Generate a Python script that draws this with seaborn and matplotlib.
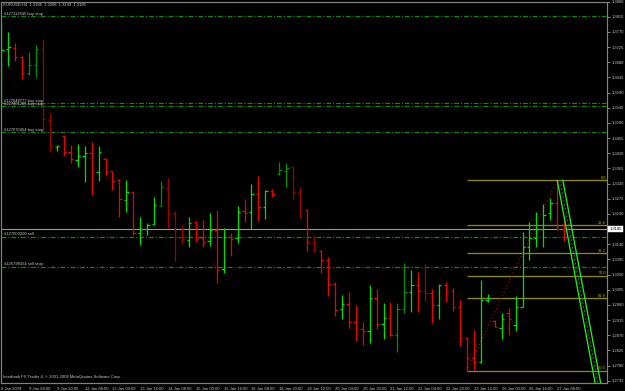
import matplotlib
matplotlib.use("Agg")
import matplotlib.pyplot as plt
import numpy as np
import pandas as pd
import seaborn as sns

# ---------------- data ----------------
symbol_header = "EURUSD,H4  1.3186  1.3208  1.3149  1.3185"
footer_text = "Interbank FX Trader 4, \u00a9 2001-2008 MetaQuotes Software Corp."

time_labels = ["8 Jan 2009", "9 Jan 04:00", "9 Jan 20:00", "12 Jan 08:00", "13 Jan 00:00",
               "13 Jan 16:00", "14 Jan 08:00", "15 Jan 00:00", "15 Jan 16:00", "16 Jan 08:00",
               "18 Jan 20:00", "19 Jan 12:00", "20 Jan 04:00", "20 Jan 20:00", "21 Jan 12:00",
               "22 Jan 04:00", "22 Jan 20:00", "23 Jan 12:00", "26 Jan 00:00", "26 Jan 16:00",
               "27 Jan 08:00"]

opens = [1.3597, 1.3719, 1.3722, 1.3695, 1.3647, 1.3671, 1.3719, 1.3508, 1.3428, 1.3461,
         1.3413, 1.3389, 1.3401, 1.3410, 1.3354, 1.3392, 1.3357, 1.3330, 1.3271, 1.3295,
         1.3173, 1.3185, 1.3200, 1.3253, 1.3306, 1.3229, 1.3161, 1.3152, 1.3206, 1.3158,
         1.3149, 1.3182, 1.3066, 1.3161, 1.3158, 1.3238, 1.3235, 1.3289, 1.3250, 1.3297,
         1.3348, 1.3357, 1.3369, 1.3295, 1.3241, 1.3146, 1.3120, 1.3093, 1.3022, 1.2948,
         1.2962, 1.2909, 1.2888, 1.2882, 1.2980, 1.2903, 1.2921, 1.2871, 1.2948, 1.2998,
         1.3019, 1.3001, 1.2995, 1.2960, 1.3019, 1.3001, 1.2954, 1.2862, 1.2802, 1.2791,
         1.2974, 1.2912, 1.2891, 1.2936, 1.2900, 1.2954, 1.3131, 1.3158, 1.3185, 1.3232,
         1.3262, 1.3186]

highs = [1.3799, 1.3769, 1.3736, 1.3697, 1.3710, 1.3730, 1.3748, 1.3529, 1.3434, 1.3463,
         1.3434, 1.3437, 1.3431, 1.3443, 1.3431, 1.3395, 1.3358, 1.3332, 1.3330, 1.3297,
         1.3220, 1.3203, 1.3280, 1.3327, 1.3336, 1.3238, 1.3197, 1.3220, 1.3209, 1.3212,
         1.3232, 1.3241, 1.3188, 1.3173, 1.3253, 1.3274, 1.3318, 1.3342, 1.3300, 1.3303,
         1.3384, 1.3381, 1.3369, 1.3309, 1.3244, 1.3164, 1.3123, 1.3102, 1.3028, 1.2989,
         1.2998, 1.2960, 1.2909, 1.3019, 1.3007, 1.2965, 1.2968, 1.2965, 1.3084, 1.3063,
         1.3057, 1.3081, 1.3007, 1.3022, 1.3028, 1.3010, 1.2974, 1.2865, 1.2885, 1.3034,
         1.2992, 1.2915, 1.2936, 1.2951, 1.2986, 1.3176, 1.3206, 1.3235, 1.3259, 1.3277,
         1.3330, 1.3208]

lows = [1.3538, 1.3668, 1.3683, 1.3630, 1.3641, 1.3636, 1.3470, 1.3413, 1.3416, 1.3401,
        1.3381, 1.3369, 1.3324, 1.3286, 1.3327, 1.3342, 1.3300, 1.3220, 1.3235, 1.3167,
        1.3137, 1.3167, 1.3197, 1.3253, 1.3188, 1.3090, 1.3140, 1.3131, 1.3146, 1.3131,
        1.3134, 1.3025, 1.3054, 1.3105, 1.3143, 1.3206, 1.3185, 1.3209, 1.3215, 1.3280,
        1.3345, 1.3309, 1.3274, 1.3215, 1.3120, 1.3117, 1.3054, 1.2986, 1.2927, 1.2918,
        1.2891, 1.2853, 1.2841, 1.2847, 1.2888, 1.2859, 1.2868, 1.2820, 1.2936, 1.2939,
        1.2939, 1.2971, 1.2906, 1.2918, 1.2968, 1.2942, 1.2838, 1.2764, 1.2767, 1.2788,
        1.2968, 1.2894, 1.2859, 1.2871, 1.2882, 1.2954, 1.3093, 1.3131, 1.3131, 1.3212,
        1.3182, 1.3149]

closes = [1.3716, 1.3724, 1.3695, 1.3647, 1.3671, 1.3719, 1.3511, 1.3431, 1.3431, 1.3413,
          1.3392, 1.3401, 1.3410, 1.3354, 1.3413, 1.3357, 1.3327, 1.3274, 1.3295, 1.3173,
          1.3185, 1.3197, 1.3256, 1.3309, 1.3229, 1.3161, 1.3158, 1.3203, 1.3158, 1.3146,
          1.3182, 1.3063, 1.3161, 1.3155, 1.3235, 1.3232, 1.3289, 1.3250, 1.3297, 1.3289,
          1.3360, 1.3366, 1.3295, 1.3244, 1.3146, 1.3120, 1.3093, 1.3022, 1.2945, 1.2962,
          1.2909, 1.2888, 1.2882, 1.2980, 1.2903, 1.2921, 1.2871, 1.2948, 1.2998, 1.3019,
          1.3001, 1.2995, 1.2960, 1.3019, 1.3001, 1.2954, 1.2862, 1.2802, 1.2791, 1.2974,
          1.2980, 1.2894, 1.2918, 1.2918, 1.2954, 1.3131, 1.3158, 1.3185, 1.3226, 1.3262,
          1.3186, 1.3185]

price_ticks = [1.3860, 1.3815, 1.3770, 1.3725, 1.3680, 1.3635, 1.3590, 1.3545, 1.3500,
               1.3455, 1.3410, 1.3365, 1.3320, 1.3275, 1.3230, 1.3185, 1.3140, 1.3095,
               1.3050, 1.3005, 1.2960, 1.2915, 1.2870, 1.2825, 1.2780, 1.2735]

order_prices = [1.3816, 1.3558, 1.3549, 1.3472, 1.3162, 1.3073]
order_labels = ["#127112645 buy stop", "#127048777 buy stop", "#127491205 buy stop",
                "#127070454 buy stop", "#127009200 sell", "#126798354 sell stop"]

fib_levels = [0.0, 23.6, 38.2, 50.0, 61.8, 100.0]
fib_low_bar = 67
fib_high_bar = 80

channel_x = [80.0, 85.7]
channel_y = [1.3330, 1.2700]

# ---------------- style ----------------
dark_bars = {4, 5, 6, 7, 23, 24, 25, 26, 40, 41, 42, 43, 45, 57, 58, 61}
BULL, BULL_DK = "#00e000", "#009000"
BEAR, BEAR_DK = "#ee0000", "#9c0000"
TXT = "#c8c8c8"
GRID = "#808080"
PX = 0.72  # one pixel in points

sns.set_theme(style="dark", rc={"axes.facecolor": "black", "figure.facecolor": "black"})
plt.rcParams["font.family"] = ["Liberation Sans", "DejaVu Sans"]

W, H = 625, 391
fig = plt.figure(figsize=(W / 100, H / 100), dpi=100)
ax = fig.add_axes([1.0 / W, 8.0 / H, 606.3 / W, 381.5 / H])
ax.set_facecolor("black")

df = pd.DataFrame({"open": opens, "high": highs, "low": lows, "close": closes})
df["x"] = np.arange(len(df))
up = df["close"] >= df["open"]
cols = []
for i, u in enumerate(up):
    if u:
        cols.append(BULL_DK if i in dark_bars else BULL)
    else:
        cols.append(BEAR_DK if i in dark_bars else BEAR)

# order lines (dash-dot green)
for p, lab in zip(order_prices, order_labels):
    ax.axhline(p, color="#0f8a0f", lw=PX * 1.2, linestyle=(0, (4, 1.6, 1, 1.6)), zorder=1)
    ax.text(0.35, p + 0.00012, lab, color=TXT, fontsize=3.0, va="bottom", ha="left", zorder=4)

# fibonacci retracement
f_hi = df["high"][fib_high_bar]
f_lo = df["low"][fib_low_bar]
xmax = 87.2
for lv in fib_levels:
    p = f_hi - lv / 100.0 * (f_hi - f_lo)
    ax.hlines(p, fib_low_bar, xmax, color="#8c8c00", lw=PX * 1.3, zorder=2)
    ax.text(xmax - 0.2, p + 0.00015, f"{lv:.1f}", color="#b5b500", fontsize=2.9,
            ha="right", va="bottom", zorder=4)

# fibo base trendline (red dotted)
sns.lineplot(x=[fib_low_bar, fib_high_bar], y=[f_lo, f_hi], ax=ax, color="#b00000",
             lw=PX * 1.2, linestyle=(0, (1, 2)), zorder=2)

# bid line
ax.axhline(closes[-1], color="#9a9a9a", lw=PX * 1.1, zorder=1)

# OHLC bars
BW = PX * 1.25
ax.vlines(df["x"], df["low"], df["high"], colors=cols, lw=BW, zorder=3)
ax.hlines(df["open"], df["x"] - 0.33, df["x"], colors=cols, lw=BW, zorder=3)
ax.hlines(df["close"], df["x"], df["x"] + 0.33, colors=cols, lw=BW, zorder=3)

# channel (lime)
off = 0.8
sns.lineplot(x=channel_x, y=channel_y, ax=ax, color="#22ee22", lw=PX * 1.3, zorder=3)
sns.lineplot(x=[c + off for c in channel_x], y=channel_y, ax=ax, color="#22ee22", lw=PX * 1.3, zorder=3)
sns.lineplot(x=[c + off / 2 for c in channel_x], y=channel_y, ax=ax, color="#0c8a0c",
             lw=PX, linestyle=(0, (2, 2)), zorder=3)

# axes limits
ymax = 1.38594
ymin = 1.27282
ax.set_xlim(-0.04, xmax)
ax.set_ylim(ymin, ymax)
ax.grid(False)

for s in ax.spines.values():
    s.set_color(GRID)
    s.set_linewidth(PX * 1.2)

bid = closes[-1]
ax.yaxis.tick_right()
ax.set_yticks(price_ticks)
ax.set_yticklabels(["" if abs(p - bid) < 1e-6 else f"{p:.4f}" for p in price_ticks])
ax.tick_params(axis="y", colors=GRID, labelcolor=TXT, labelsize=3.0, length=2.0,
               width=PX, pad=1.0, direction="out")

xt = list(range(0, 4 * len(time_labels), 4))
ax.set_xticks(xt)
ax.set_xticklabels(time_labels)
for t in ax.get_xticklabels():
    t.set_horizontalalignment("left")
ax.tick_params(axis="x", colors=GRID, labelcolor=TXT, labelsize=3.0, length=2.5,
               width=PX, pad=0.6, direction="out")
ax.set_xlabel("")
ax.set_ylabel("")

# current price tag
ax.annotate(f"{bid:.4f}", xy=(1.0, bid), xycoords=("axes fraction", "data"),
            xytext=(1.6, 0), textcoords="offset points", fontsize=3.0, color="black",
            va="center", ha="left", annotation_clip=False,
            bbox=dict(boxstyle="square,pad=0.25", fc="white", ec="white", lw=0.3), zorder=6)

fig.text(3.0 / W, 1 - 5.0 / H, symbol_header, color=TXT, fontsize=3.0, va="center", ha="left")
ax.text(0.004, 0.011, footer_text, transform=ax.transAxes, color=TXT, fontsize=3.0,
        va="bottom", ha="left")

fig.savefig("out.png", dpi=100, facecolor="black")
